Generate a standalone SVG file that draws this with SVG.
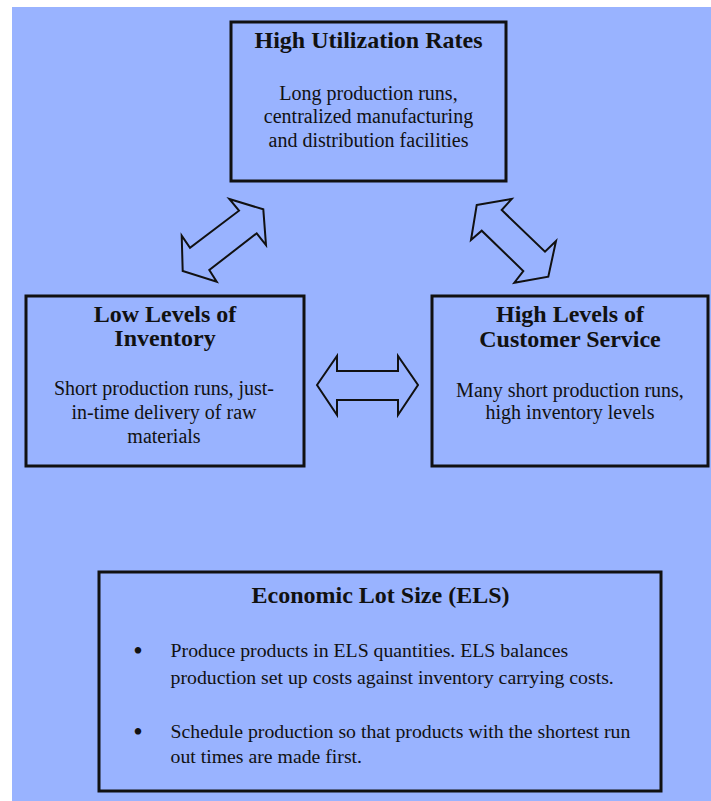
<svg xmlns="http://www.w3.org/2000/svg" width="711" height="801" viewBox="0 0 711 801">
<style>
.bg{fill:#99b3ff}
.box{fill:#99b3ff;stroke:#111;stroke-width:3}
.arrow{fill:none;stroke:#111;stroke-width:2;stroke-linejoin:miter}
.t{font-family:"Liberation Serif","Times New Roman",serif;fill:#111}
.title{font-size:24px;font-weight:bold;text-anchor:middle}
.body{font-size:20px;text-anchor:middle}
.list{font-size:19.75px}
.bullet{font-size:27px}
</style>
<rect x="0" y="0" width="711" height="801" fill="#ffffff"/>
<rect class="bg" x="12" y="7" width="699" height="794"/>

<g id="connectors">
  <polygon class="arrow" points="263.3,209.3 266,245 256.7,233.3 209.3,270 216.7,281.7 182.7,271 181.7,235.7 190,247.7 239,210.7 229.3,199"/>
  <polygon class="arrow" points="476.7,205 511.7,199 501.7,210 545,251.7 556,241 548.3,276.7 514.3,282.7 523.3,271 481.7,230.7 471,240"/>
  <polygon class="arrow" points="317,385 337,356 337,371 398,371 398,356 418,385 398,415 398,400 337,400 337,415"/>
</g>

<g id="node-utilization">
  <rect class="box" x="231" y="22" width="275" height="159"/>
  <text class="t title" x="368.5" y="48">High Utilization Rates</text>
  <text class="t body" x="368.5" y="100">Long production runs,</text>
  <text class="t body" x="368.5" y="123.3">centralized manufacturing</text>
  <text class="t body" x="368.5" y="146.7">and distribution facilities</text>
</g>

<g id="node-inventory">
  <rect class="box" x="26" y="296" width="278" height="170"/>
  <text class="t title" x="165" y="321.5">Low Levels of</text>
  <text class="t title" x="165" y="345.8">Inventory</text>
  <text class="t body" x="164" y="395">Short production runs, just-</text>
  <text class="t body" x="164" y="419.3">in-time delivery of raw</text>
  <text class="t body" x="164" y="443.3">materials</text>
</g>

<g id="node-service">
  <rect class="box" x="432" y="296" width="276" height="170"/>
  <text class="t title" x="570" y="322.3">High Levels of</text>
  <text class="t title" x="570" y="346.7">Customer Service</text>
  <text class="t body" x="570" y="396.7">Many short production runs,</text>
  <text class="t body" x="570" y="419.3">high inventory levels</text>
</g>

<g id="node-els">
  <rect class="box" x="99" y="572" width="562" height="219"/>
  <text class="t title" x="380.5" y="602.5">Economic Lot Size (ELS)</text>
  <text class="t bullet" x="133.3" y="659.5">•</text>
  <text class="t list" x="170.6" y="657">Produce products in ELS quantities. ELS balances</text>
  <text class="t list" x="170.6" y="683.8">production set up costs against inventory carrying costs.</text>
  <text class="t bullet" x="133.3" y="740.8">•</text>
  <text class="t list" x="170.6" y="738.2">Schedule production so that products with the shortest run</text>
  <text class="t list" x="170.6" y="763.3">out times are made first.</text>
</g>
</svg>
